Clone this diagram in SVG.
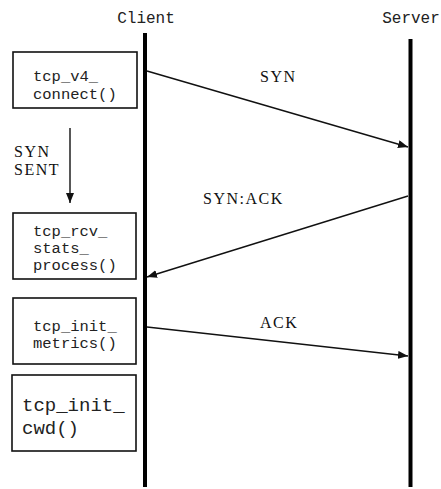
<svg xmlns="http://www.w3.org/2000/svg" width="441" height="489" viewBox="0 0 441 489">
<style>
.mono{font-family:"Liberation Mono","DejaVu Sans Mono",monospace;font-size:15.5px;fill:#222}
.serif{font-family:"Liberation Serif","DejaVu Serif",serif;font-size:16px;fill:#111;letter-spacing:1.5px}
.box{fill:#fff;stroke:#111;stroke-width:1.6}
.life{stroke:#000;stroke-width:4}
.msg{stroke:#111;stroke-width:1.4;fill:none;marker-end:url(#ah)}
</style>
<defs>
<marker id="ah" viewBox="0 0 10 8" refX="10" refY="4" markerWidth="10" markerHeight="8" markerUnits="userSpaceOnUse" orient="auto">
<path d="M0,0 L10,4 L0,8 Z" fill="#111"/>
</marker>
</defs>
<g id="client">
<text class="mono" x="146" y="23" text-anchor="middle" style="font-size:16px">Client</text>
<line class="life" x1="145" y1="33" x2="145" y2="487"/>
</g>
<g id="server">
<text class="mono" x="411" y="23" text-anchor="middle" style="font-size:16px">Server</text>
<line class="life" x1="410.5" y1="39" x2="410.5" y2="487"/>
</g>
<g id="box-connect">
<rect class="box" x="13" y="52" width="124" height="56"/>
<text class="mono" x="33" y="81">tcp_v4_</text>
<text class="mono" x="33" y="99">connect()</text>
</g>
<g id="state-synsent">
<text class="serif" x="14" y="157">SYN</text>
<text class="serif" x="14" y="175">SENT</text>
</g>
<g id="box-rcv">
<rect class="box" x="13" y="213" width="123" height="66"/>
<text class="mono" x="33" y="236">tcp_rcv_</text>
<text class="mono" x="33" y="253">stats_</text>
<text class="mono" x="33" y="270">process()</text>
</g>
<g id="box-metrics">
<rect class="box" x="13" y="298" width="123" height="66"/>
<text class="mono" x="33" y="331">tcp_init_</text>
<text class="mono" x="33" y="348">metrics()</text>
</g>
<g id="box-cwd">
<rect class="box" x="12" y="375" width="124" height="76"/>
<text class="mono" x="22" y="411" style="font-size:19px">tcp_init_</text>
<text class="mono" x="22" y="434" style="font-size:19px">cwd()</text>
</g>
<g id="connectors">
<line class="msg" x1="147" y1="71" x2="408" y2="147"/>
<line class="msg" x1="408" y1="196" x2="147" y2="277"/>
<line class="msg" x1="147" y1="327" x2="408" y2="356"/>
<line class="msg" x1="70" y1="128" x2="70" y2="203"/>
</g>
<g id="labels">
<text class="serif" x="260" y="82">SYN</text>
<text class="serif" x="203" y="204">SYN:ACK</text>
<text class="serif" x="260" y="328">ACK</text>
</g>
</svg>
